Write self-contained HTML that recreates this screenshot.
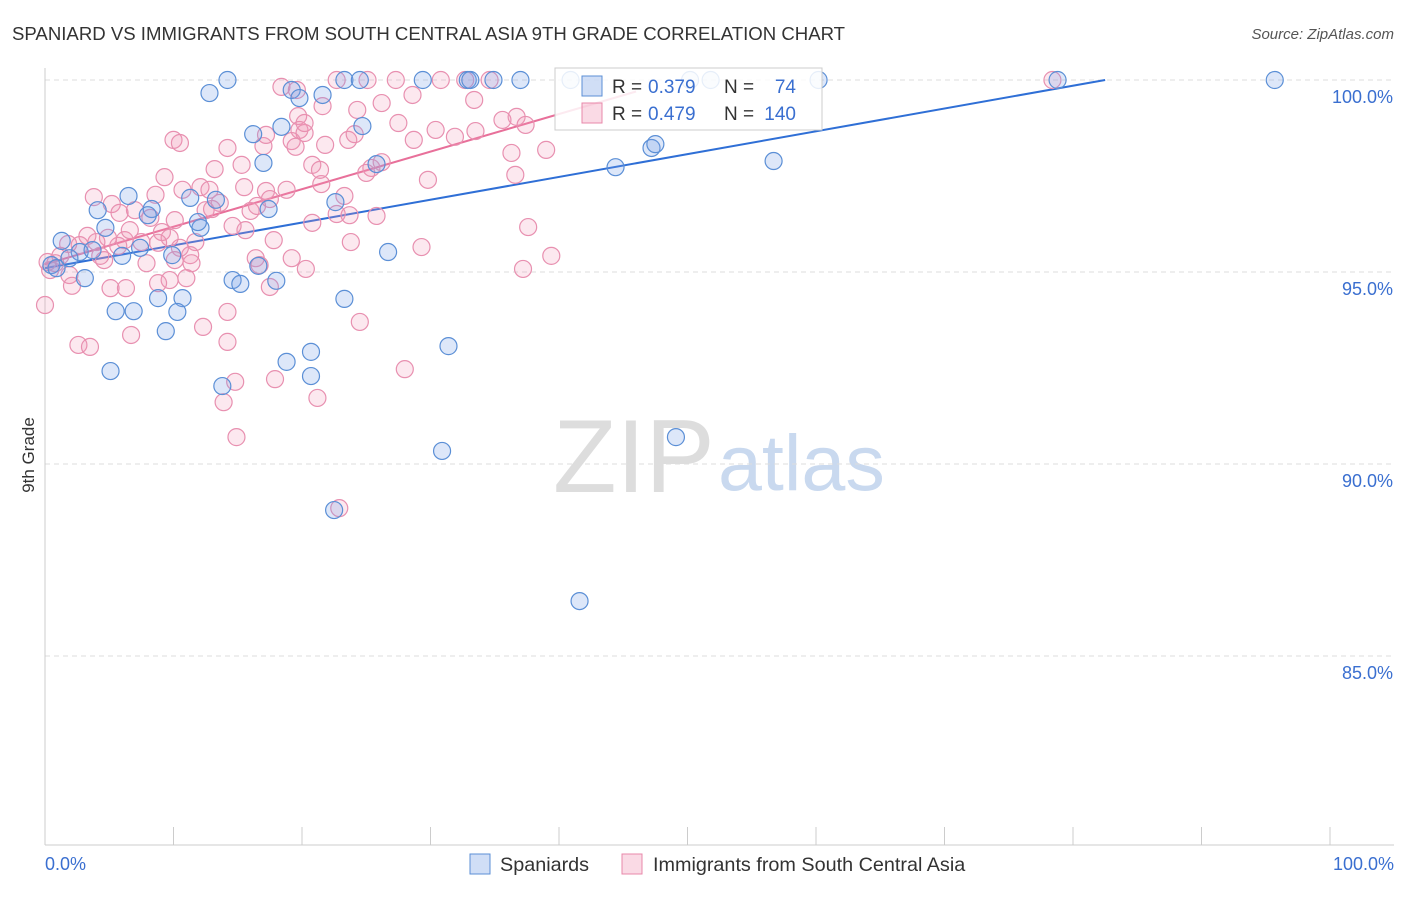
<!DOCTYPE html>
<html><head><meta charset="utf-8"><style>
body{margin:0;background:#fff;font-family:"Liberation Sans",sans-serif;}
svg text{font-family:"Liberation Sans",sans-serif;}
</style></head><body>
<svg id="chart" width="1406" height="892" viewBox="0 0 1406 892">
<text x="12" y="40" font-size="18.6" fill="#333">SPANIARD VS IMMIGRANTS FROM SOUTH CENTRAL ASIA 9TH GRADE CORRELATION CHART</text>
<text x="1394" y="39" font-size="15" fill="#555" font-style="italic" text-anchor="end">Source: ZipAtlas.com</text>
<text x="34" y="455" font-size="17" fill="#333" text-anchor="middle" transform="rotate(-90 34 455)">9th Grade</text>
<g><text x="553" y="492" font-size="104" fill="#ddd" font-family="Liberation Serif,serif">ZIP</text><text x="718" y="490" font-size="79" fill="#c9d9ef">atlas</text></g>
<g id="grid"></g><g id="ticks"></g><g id="trend"></g><g id="pts"></g>
<g>
<rect x="555" y="68" width="267" height="62" fill="#fff" fill-opacity="0.85" stroke="#ccc"/>
<rect x="582" y="76" width="20" height="20" fill="rgba(120,160,230,0.35)" stroke="#5b8fd6"/>
<text x="612" y="93" font-size="19" fill="#333">R =</text>
<text x="648" y="93" font-size="19" fill="#3a6fd0">0.379</text>
<text x="724" y="93" font-size="19" fill="#333">N =</text>
<text x="796" y="93" font-size="19" fill="#3a6fd0" text-anchor="end">74</text>
<rect x="582" y="103" width="20" height="20" fill="rgba(240,150,180,0.35)" stroke="#e888aa"/>
<text x="612" y="120" font-size="19" fill="#333">R =</text>
<text x="648" y="120" font-size="19" fill="#3a6fd0">0.479</text>
<text x="724" y="120" font-size="19" fill="#333">N =</text>
<text x="796" y="120" font-size="19" fill="#3a6fd0" text-anchor="end">140</text>
</g>
<g>
<rect x="470" y="854" width="20" height="20" fill="rgba(120,160,230,0.35)" stroke="#5b8fd6"/>
<text x="500" y="871" font-size="19.8" fill="#333">Spaniards</text>
<rect x="622" y="854" width="20" height="20" fill="rgba(240,150,180,0.35)" stroke="#e888aa"/>
<text x="653" y="871" font-size="19.8" fill="#333">Immigrants from South Central Asia</text>
</g>
<text x="45" y="870" font-size="18" fill="#3a6fd0">0.0%</text>
<text x="1394" y="870" font-size="18" fill="#3a6fd0" text-anchor="end">100.0%</text>
</svg>
<script>
const blueX=[14.2,12.8,19.2,19.8,21.6,23.3,24.5,24.7,29.4,32.9,33.1,34.9,37.0,16.2,18.4,17.0,17.4,13.3,12.1,11.9,11.3,8.3,8.0,6.5,4.1,4.7,1.3,2.7,3.7,1.9,0.5,0.9,3.1,6.0,7.4,9.9,14.6,15.2,18.0,16.6,8.8,10.7,5.5,6.9,10.3,9.4,5.1,13.8,18.8,20.7,20.7,23.3,22.6,25.8,26.7,31.4,30.9,22.5,41.6,49.1,44.4,47.2,47.5,56.7,60.2,78.8,95.7,40.9,50.2,51.8];
const blueY=[100,99.66,99.74,99.53,99.61,100,100,98.8,100,100,100,100,100,98.59,98.78,97.84,96.64,96.88,96.15,96.30,96.93,96.64,96.48,96.98,96.61,96.15,95.81,95.52,95.57,95.36,95.18,95.10,94.84,95.42,95.63,95.44,94.79,94.69,94.77,95.16,94.32,94.32,93.98,93.98,93.96,93.46,92.42,92.03,92.66,92.92,92.29,94.30,96.82,97.81,95.52,93.07,90.34,88.80,86.43,90.70,97.73,98.23,98.33,97.89,100,100,100,100,100,100];
const pinkX=[18.4,19.6,21.6,22.7,24.3,25.1,26.2,28.6,27.3,30.8,32.7,33.4,34.6,19.7,19.8,19.2,20.2,21.8,23.6,24.1,27.5,30.4,31.9,33.5,35.6,36.7,37.4,36.3,39.0,28.7,19.5,17.0,17.2,14.2,10.0,10.5,15.3,13.2,25.4,26.2,25.0,29.8,36.6,20.8,21.5,23.3,18.8,17.2,15.5,12.1,10.7,9.3,8.6,7.0,3.8,5.2,5.8,8.2,9.1,10.1,12.5,13.6,13.0,16.0,16.5,17.5,20.8,22.7,23.7,25.8,37.6,23.8,29.3,39.4,37.2,20.3,19.2,17.8,16.4,16.7,15.6,14.6,11.7,11.3,11.4,10.5,9.7,8.8,7.5,7.9,6.2,5.7,4.9,4.6,4.0,3.3,2.7,1.8,1.2,0.8,0.4,0.2,1.9,2.1,5.1,6.3,11.0,9.7,17.5,14.2,12.3,6.7,2.6,3.5,14.2,14.8,13.9,17.9,21.2,14.9,22.9,28.0,24.5,8.8,10.1,78.4,0.0,4.3,6.6,12.8,20.2,21.4];
const pinkY=[99.82,99.74,99.32,100,99.22,100,99.40,99.61,100,100,100,99.48,100,99.06,98.70,98.41,98.62,98.31,98.44,98.59,98.88,98.70,98.52,98.67,98.96,99.04,98.83,98.10,98.18,98.44,98.26,98.28,98.57,98.23,98.44,98.36,97.79,97.68,97.71,97.86,97.58,97.40,97.53,97.79,97.29,96.98,97.14,97.11,97.21,97.21,97.14,97.47,97.01,96.61,96.95,96.77,96.54,96.41,96.04,96.35,96.61,96.80,96.64,96.59,96.72,96.90,96.28,96.51,96.48,96.46,96.17,95.78,95.65,95.42,95.08,95.08,95.36,95.83,95.36,95.18,96.09,96.20,95.78,95.44,95.23,95.63,95.89,95.76,95.78,95.23,95.83,95.68,95.89,95.31,95.78,95.94,95.70,95.73,95.42,95.23,95.05,95.26,94.92,94.64,94.58,94.58,94.84,94.79,94.61,93.96,93.57,93.36,93.10,93.05,93.18,92.14,91.61,92.21,91.72,90.70,88.85,92.47,93.70,94.71,95.31,100,94.14,95.42,96.09,97.14,98.88,97.66];
const trendBlue=[0,95.1,82.5,100];
const trendPink=[0,95.2,46,99.7];
const yTicks=[100,95,90,85];
const xTicks=[0,10,20,30,40,50,60,70,80,90,100];
const NS="http://www.w3.org/2000/svg";
const sx=v=>45+v*12.85, sy=v=>80+(100-v)*38.4;
function mk(t,a,p){const e=document.createElementNS(NS,t);for(const k in a)e.setAttribute(k,a[k]);document.getElementById(p).appendChild(e);return e;}
yTicks.forEach(t=>{
 const l=mk('line',{x1:45,x2:1394,y1:sy(t),y2:sy(t),stroke:'#ddd','stroke-dasharray':'5,4'},'grid');
 
 
 const tx=mk('text',{x:1393,y:sy(t)+23,'font-size':18,fill:'#3a6fd0','text-anchor':'end'},'grid');
 tx.textContent=t.toFixed(1)+'%';
 
 
});
const ax=mk('line',{x1:45,x2:45,y1:68,y2:845,stroke:'#ccc'},'ticks');


const bx=mk('line',{x1:45,x2:1394,y1:845,y2:845,stroke:'#ccc'},'ticks');


xTicks.forEach(t=>{
 const l=mk('line',{x1:sx(t),x2:sx(t),y1:827,y2:845,stroke:'#ccc'},'ticks');
 
 
});
function pts(X,Y,fill,stroke,name){X.forEach((x,i)=>{
 const c=mk('circle',{cx:sx(x),cy:sy(Y[i]),r:8.5,fill:fill,stroke:stroke,'stroke-width':1.2},'pts');
 
 
});}
pts(pinkX,pinkY,'rgba(240,150,180,0.22)','#e890b0','immigrant-point');
pts(blueX,blueY,'rgba(120,160,230,0.25)','#5b8fd6','spaniard-point');
const tb=mk('line',{x1:sx(trendBlue[0]),y1:sy(trendBlue[1]),x2:sx(trendBlue[2]),y2:sy(trendBlue[3]),stroke:'#2f6fd6','stroke-width':2},'trend');


const tp=mk('line',{x1:sx(trendPink[0]),y1:sy(trendPink[1]),x2:sx(trendPink[2]),y2:sy(trendPink[3]),stroke:'#e8709a','stroke-width':2},'trend');


</script>
</body></html>
